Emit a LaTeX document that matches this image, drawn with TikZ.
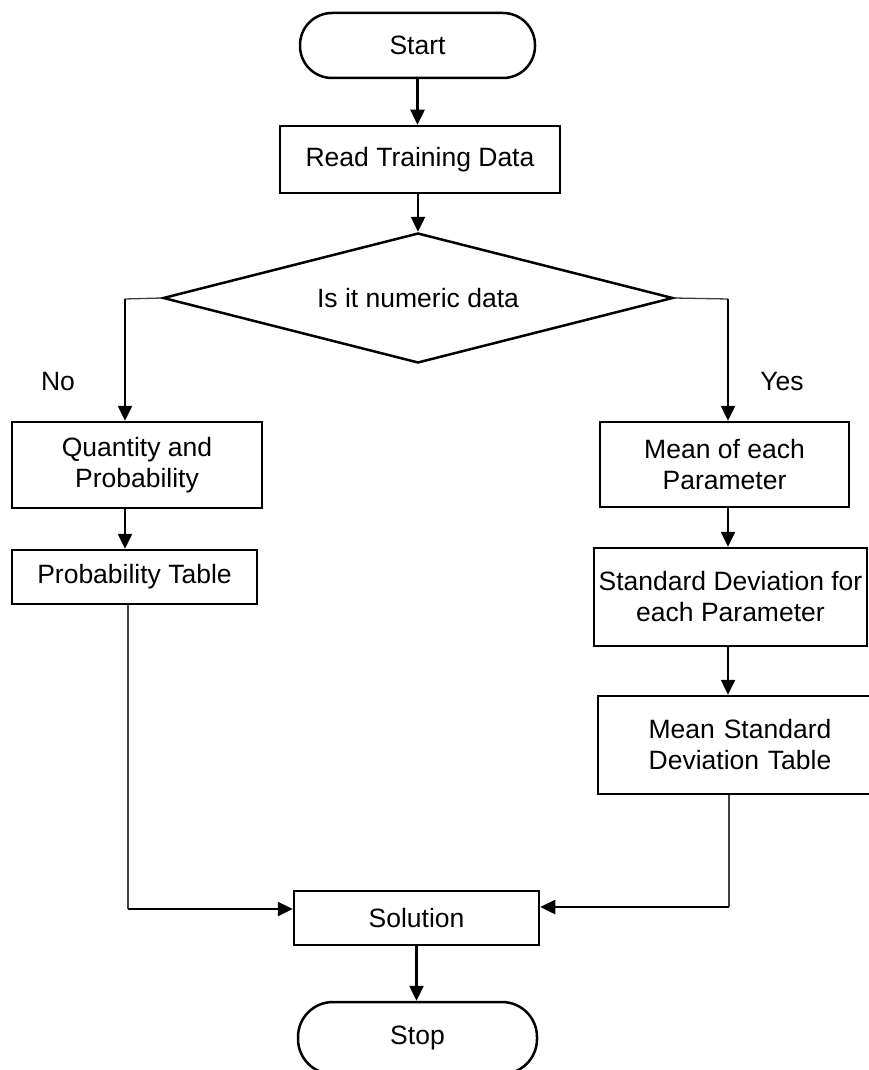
\documentclass[tikz,border=0pt]{standalone}
\usepackage{fontspec}
\setmainfont{Liberation Sans}
\usetikzlibrary{shapes.geometric,arrows.meta,calc}
\begin{document}
\begin{tikzpicture}[x=1pt,y=-1pt,
  every node/.style={font=\fontsize{26.5}{31}\selectfont, inner sep=0pt, align=center},
  procbox/.style={draw, line width=2.5pt, rectangle},
  termbox/.style={draw, line width=2.5pt, rectangle, rounded corners=32pt},
  decbox/.style={draw, line width=2.5pt, diamond, aspect=3.9},
  arr/.style={line width=2.5pt, -{Triangle[length=15pt,width=14pt]}},
  thinline/.style={line width=1.3pt, draw=black!75},
  lbl/.style={}
]
\useasboundingbox (0,0) rectangle (869,1070);
\fill[white] (0,0) rectangle (869,1070);

\node[termbox, minimum width=235pt, minimum height=65pt] (start) at (417.5,45.5) {Start};
\node[procbox, minimum width=280pt, minimum height=67pt] (read) at (420,159.5) {Read Training Data};
\node[decbox, minimum width=510pt, minimum height=130pt] (dia) at (418,298) {\raisebox{-4pt}{Is it numeric data}};

\node[procbox, minimum width=250pt, minimum height=86pt] (q) at (137,465) {Quantity and\\Probability};
\node[procbox, minimum width=245pt, minimum height=54pt] (pt) at (134.5,577) {Probability Table};

\node[procbox, minimum width=249pt, minimum height=85pt] (mean) at (724.5,464.5) {Mean of each\\Parameter};
\node[procbox, minimum width=273pt, minimum height=98pt] (sd) at (730.5,597) {Standard Deviation for\\each Parameter};
\node[procbox, minimum width=290pt, minimum height=98pt, text width=270pt] (msd) at (743,745) {\hspace*{-6pt}Mean Standard\\\hspace*{-6pt}Deviation Table};

\node[procbox, minimum width=245pt, minimum height=54pt] (sol) at (416.5,918) {Solution};
\node[termbox, minimum width=239pt, minimum height=72pt, rounded corners=35pt] (stop) at (417.5,1038) {Stop};

\node[lbl] (no) at (58,382) {No};
\node[lbl] (yes) at (782,382) {Yes};

\coordinate (cl) at (125,299);
\coordinate (cr) at (728,299);
\coordinate (bl) at (128,909);
\coordinate (br) at (729,907);

% top chain
\draw[arr] (start.south) -- (start.south |- read.north);
\draw[arr] (read.south -| dia.north) -- (dia.north);

% left branch
\draw[thinline] (dia.west) -- (cl);
\draw[arr] (cl) -- (cl |- q.north);
\draw[arr] (q.south -| cl) -- (pt.north -| cl);
\draw[thinline] (pt.south -| bl) -- (bl);
\draw[arr] (bl) -- (bl -| sol.west);

% right branch
\draw[thinline] (dia.east) -- (cr);
\draw[arr] (cr) -- (cr |- mean.north);
\draw[arr] (mean.south -| cr) -- (sd.north -| cr);
\draw[arr] (sd.south -| cr) -- (msd.north -| cr);
\draw[thinline] (msd.south -| br) -- (br);
\draw[arr] (br) -- (br -| sol.east);

% bottom
\draw[arr] (sol.south) -- (sol.south |- stop.north);
\end{tikzpicture}
\end{document}
